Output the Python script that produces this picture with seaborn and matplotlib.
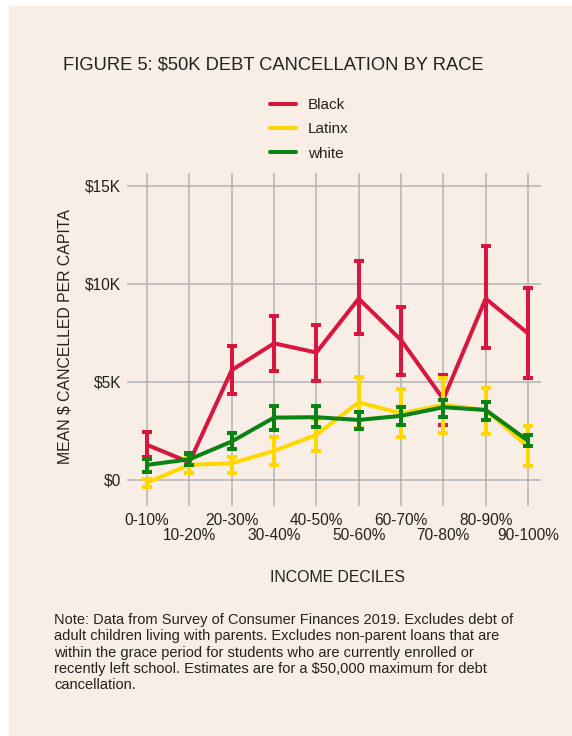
import numpy as np
import pandas as pd
import matplotlib
matplotlib.use("Agg")
import matplotlib.pyplot as plt
from matplotlib.patches import Rectangle
from matplotlib.lines import Line2D
import seaborn as sns

# ---- data (values in $K) ----
deciles = ["0-10%", "10-20%", "20-30%", "30-40%", "40-50%",
           "50-60%", "60-70%", "70-80%", "80-90%", "90-100%"]

black_mean = [1.79, 0.90, 5.60, 6.97, 6.50, 9.25, 7.14, 4.12, 9.25, 7.48]
black_lo   = [1.15, 0.75, 4.37, 5.56, 5.07, 7.43, 5.36, 2.80, 6.72, 5.19]
black_hi   = [2.43, 1.28, 6.84, 8.38, 7.90, 11.19, 8.84, 5.36, 11.94, 9.78]

latinx_mean = [-0.14, 0.77, 0.85, 1.48, 2.30, 3.96, 3.40, 3.83, 3.57, 1.70]
latinx_lo   = [-0.35, 0.34, 0.37, 0.77, 1.48, 2.65, 2.21, 2.41, 2.33, 0.71]
latinx_hi   = [0.07, 1.10, 1.19, 2.21, 3.10, 5.27, 4.63, 5.19, 4.68, 2.76]

white_mean = [0.77, 1.05, 1.96, 3.18, 3.20, 3.06, 3.27, 3.71, 3.57, 2.00]
white_lo   = [0.43, 0.77, 1.56, 2.55, 2.69, 2.59, 2.80, 3.23, 3.06, 1.73]
white_hi   = [1.05, 1.39, 2.38, 3.79, 3.79, 3.49, 3.71, 4.08, 4.00, 2.30]

races = ["Black", "Latinx", "white"]
ytick_vals = [0, 5, 10, 15]
ytick_labels = ["$0", "$5K", "$10K", "$15K"]

title = "FIGURE 5: $50K DEBT CANCELLATION BY RACE"
xlabel = "INCOME DECILES"
ylabel = "MEAN $ CANCELLED PER CAPITA"
note = ("Note: Data from Survey of Consumer Finances 2019. Excludes debt of\n"
        "adult children living with parents. Excludes non-parent loans that are\n"
        "within the grace period for students who are currently enrolled or\n"
        "recently left school. Estimates are for a $50,000 maximum for debt\n"
        "cancellation.")

colors = {"Black": "#D8173F", "Latinx": "#FFD700", "white": "#0A8214"}
BG = "#F8EEE5"

series = {
    "Black": (black_mean, black_lo, black_hi),
    "Latinx": (latinx_mean, latinx_lo, latinx_hi),
    "white": (white_mean, white_lo, white_hi),
}

rows = []
for r in races:
    m, lo, hi = series[r]
    for i, d in enumerate(deciles):
        rows.append({"race": r, "x": i, "decile": d, "mean": m[i], "lo": lo[i], "hi": hi[i]})
df = pd.DataFrame(rows)

sns.set_theme(style="white")
plt.rcParams["font.family"] = ["Liberation Sans", "DejaVu Sans"]
plt.rcParams["text.color"] = "#222222"

W, H = 572, 736
fig = plt.figure(figsize=(W / 100, H / 100), dpi=100, facecolor="white")
fig.patches.append(Rectangle((9 / W, 0), 1 - 9 / W, 1 - 6 / H, transform=fig.transFigure,
                             facecolor=BG, edgecolor="none", zorder=-10))

left, right, top, bottom = 126.7, 540.7, 173, 506
ax = fig.add_axes([left / W, 1 - bottom / H, (right - left) / W, (bottom - top) / H])
ax.set_zorder(5)
ax.set_facecolor(BG)

lw = 2.9
for z, r in enumerate(races):
    sub = df[df.race == r]
    sns.lineplot(data=sub, x="x", y="mean", ax=ax, color=colors[r], linewidth=lw,
                 legend=False, zorder=3 + z, solid_capstyle="round", solid_joinstyle="round")
    eb = ax.errorbar(sub["x"], sub["mean"],
                     yerr=[sub["mean"] - sub["lo"], sub["hi"] - sub["mean"]],
                     fmt="none", ecolor=colors[r], elinewidth=lw, capsize=3.6, capthick=lw,
                     zorder=3 + z)

ax.set_xlim(-0.48, 9.3)
ax.set_ylim(-1.33, 15.66)

FS = 11.2
# x ticks staggered: even on major, odd on minor
ax.set_xticks(range(0, 10, 2))
ax.set_xticklabels(deciles[0::2])
ax.set_xticks(range(1, 10, 2), minor=True)
ax.set_xticklabels(deciles[1::2], minor=True)
ax.tick_params(axis="x", which="major", length=0, pad=5, labelsize=FS, colors="#222222")
ax.tick_params(axis="x", which="minor", length=0, pad=16, labelsize=FS, colors="#222222")
ax.set_yticks(ytick_vals)
ax.set_yticklabels(ytick_labels)
ax.tick_params(axis="y", length=0, pad=4, labelsize=FS, colors="#222222")

ax.grid(True, axis="x", which="both", color="#B4B4B4", linewidth=1.1)
ax.grid(True, axis="y", which="major", color="#B4B4B4", linewidth=1.1)
for s in ax.spines.values():
    s.set_visible(False)

ax.set_xlabel("")
ax.set_ylabel("")
fig.text(337 / W, 1 - 578 / H, xlabel, ha="center", va="center", fontsize=11.4)
fig.text(65 / W, 1 - 337 / H, ylabel, ha="center", va="center", rotation=90, fontsize=11.4)

fig.text(273 / W, 1 - 65 / H, title, ha="center", va="center", fontsize=13.2)

# legend
handles = [Line2D([0], [0], color=colors[r], linewidth=lw) for r in races]
leg = fig.legend(handles, races, loc="upper left", bbox_to_anchor=(270 / W, 1 - 98 / H),
                 frameon=False, fontsize=11, handlelength=1.7, handletextpad=0.78,
                 labelspacing=0.68, borderaxespad=0, borderpad=0)

fig.text(54 / W, 1 - 613 / H, note, ha="left", va="top", fontsize=10.5, linespacing=1.21)

fig.savefig("out.png", dpi=100, facecolor="white")
